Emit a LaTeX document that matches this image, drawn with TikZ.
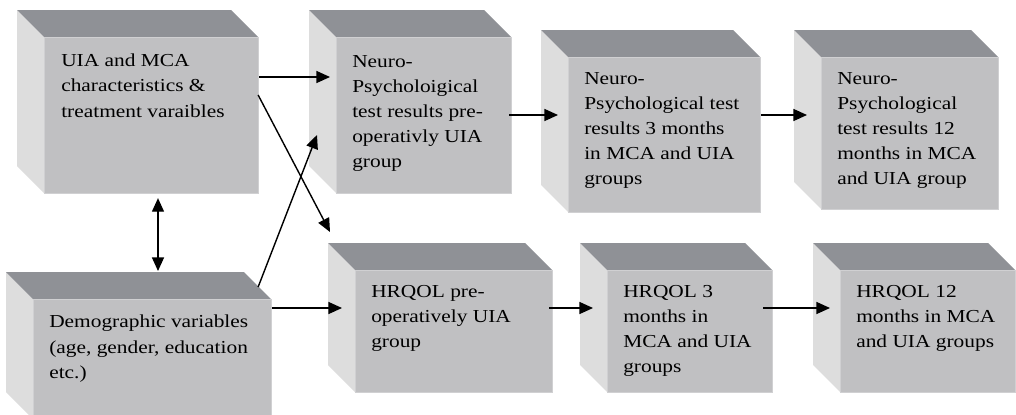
\documentclass[tikz,border=0pt]{standalone}
\usepackage{fontspec}
\setmainfont[FakeStretch=1.17]{Liberation Serif}
\usepackage{xcolor}
\usetikzlibrary{arrows.meta,positioning,calc}
\definecolor{topgray}{RGB}{143,145,150}
\definecolor{frontgray}{RGB}{192,192,194}
\definecolor{sidegray}{RGB}{221,221,221}
\definecolor{edgegray}{RGB}{208,208,210}

\begin{document}
\begin{tikzpicture}[x=0.025cm, y=-0.025cm,
    front/.style={fill=frontgray, draw=edgegray, line width=0.8pt, inner sep=0pt, anchor=north west},
    boxtext/.style={anchor=north west, inner sep=0pt, align=left, font=\fontsize{13}{17.8}\selectfont},
    arrow/.style={-{Triangle[length=3.4mm, width=3mm]}, line width=1pt},
    dblarrow/.style={{Triangle[length=3.4mm, width=3mm]}-{Triangle[length=3.4mm, width=3mm]}, line width=1pt}]
    \useasboundingbox (0,0) rectangle (1016,414);
    \clip (0,0) rectangle (1016,414);

    % Boxes (front face, top face, side face)
    \foreach \n/\x/\y/\w/\h in {uia/44/37/214/156, demo/33/299/238/120,
        npre/336/37/175/156, nthree/568/57/192/155, ntwelve/821/57/177/152,
        hpre/355/270/197/122, hthree/607/270/165/122, htwelve/840/270/175/122} {
        \fill[sidegray] (\x,\y) -- ++(-27,-27) -- ++(0,\h) -- ++(27,27) -- cycle;
        \fill[topgray] (\x,\y) -- ++(-27,-27) -- ++(\w,0) -- ++(27,27) -- cycle;
        \node[front, minimum width=\w*0.025cm, minimum height=\h*0.025cm] (\n) at (\x,\y) {};
    }

    % Labels
    \node[boxtext] (uiatext) at ($(uia.north west)+(17,17)$) {UIA and MCA\\characteristics \&\\treatment varaibles};
    \node[boxtext] (demotext) at ($(demo.north west)+(16,16)$) {Demographic variables\\(age, gender, education\\etc.)};
    \node[boxtext] (npretext) at ($(npre.north west)+(16,18)$) {Neuro-\\Psycholoigical\\test results pre-\\operativly UIA\\group};
    \node[boxtext] (nthreetext) at ($(nthree.north west)+(16,15)$) {Neuro-\\Psychological test\\results 3 months\\in MCA and UIA\\groups};
    \node[boxtext] (ntwelvetext) at ($(ntwelve.north west)+(16,15)$) {Neuro-\\Psychological\\test results 12\\months in MCA\\and UIA group};
    \node[boxtext] (hpretext) at ($(hpre.north west)+(16,15)$) {HRQOL pre-\\operatively UIA\\group};
    \node[boxtext] (hthreetext) at ($(hthree.north west)+(16,15)$) {HRQOL 3\\months in\\MCA and UIA\\groups};
    \node[boxtext] (htwelvetext) at ($(htwelve.north west)+(16,15)$) {HRQOL 12\\months in MCA\\and UIA groups};

    % Arrows
    \draw[arrow] ($(uia.north east)+(0,40)$) -- ($(npre.north west)+(-6,40)$);
    \draw[arrow] ($(uia.north east)+(-1,58)$) -- ($(hpre.north west)+(-25,-38)$);
    \draw[arrow] ($(demo.north east)+(-14,-12)$) -- ($(npre.north west)+(-19,98)$);
    \draw[arrow] ($(demo.north east)+(0,9)$) -- ($(hpre.north west)+(-13,38)$);
    \draw[arrow] ($(npre.north east)+(-3,78)$) -- ($(nthree.north west)+(-10,58)$);
    \draw[arrow] ($(nthree.north east)+(0,58)$) -- ($(ntwelve.north west)+(-14,58)$);
    \draw[arrow] ($(hpre.north east)+(-4,38)$) -- ($(hthree.north west)+(-14,38)$);
    \draw[arrow] ($(hthree.north east)+(-10,38)$) -- ($(htwelve.north west)+(-10,38)$);
    \draw[dblarrow] ($(uia.south west)+(114,4)$) -- ($(demo.north west)+(125,-28)$);
\end{tikzpicture}
\end{document}
